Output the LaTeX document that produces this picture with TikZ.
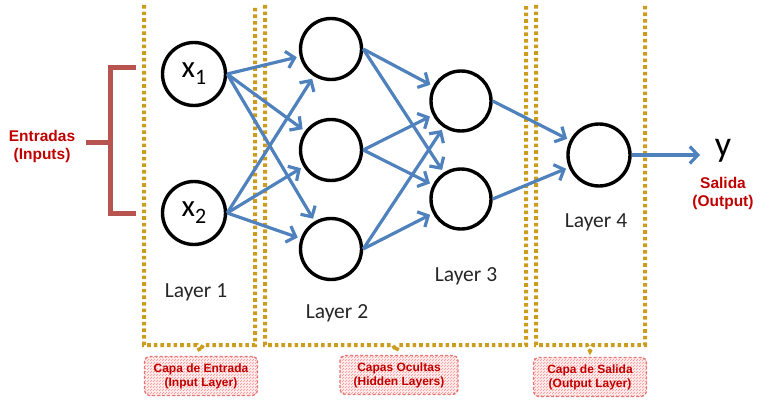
\documentclass[tikz,border=0pt]{standalone}
\usepackage{fontspec}
\setmainfont{Carlito}
\newfontfamily\arialb{Liberation Sans}[BoldFont={Liberation Sans Bold}]
\usetikzlibrary{arrows.meta,patterns}
\definecolor{gold}{RGB}{204,156,30}
\definecolor{nnblue}{RGB}{79,129,189}
\definecolor{brk}{RGB}{184,84,80}
\definecolor{lblred}{RGB}{192,0,0}
\definecolor{pinkb}{RGB}{226,120,120}
\begin{document}
\begin{tikzpicture}[x=1pt,y=-1pt,
  neuron/.style={circle,draw=black,line width=3.4pt,inner sep=0pt},
  conn/.style={draw=nnblue,line width=3.2pt,-{Straight Barb[length=8pt,width=17pt,line width=3.2pt]},shorten >=3pt},
  dotbox/.style={draw=gold,line width=4pt,dash pattern=on 3.6pt off 3pt},
  layertxt/.style={font=\fontsize{21.5}{21.5}\selectfont,text=black!85},
  redtxt/.style={font=\arialb\bfseries\fontsize{15.5}{18}\selectfont,text=lblred,align=center},
  tagbox/.style={rounded corners=5pt,draw=pinkb,line width=1.4pt,densely dashed,preaction={fill=red!6},pattern=north east lines,pattern color=red!45,minimum width=113pt,minimum height=39pt,align=center,font=\arialb\bfseries\fontsize{12}{14}\selectfont,text=lblred,inner sep=0pt}]
\useasboundingbox (0,0) rectangle (769,409);
% dotted layer boxes
\draw[dotbox] (144,5) -- (144,345) -- (197,345) -- (200,351) -- (203,345) -- (255,345) -- (255,5);
\draw[dotbox] (265,5) -- (265,345) -- (393,345) -- (396,351) -- (399,345) -- (526,345) -- (526,5);
\draw[dotbox] (536,5) -- (536,345) -- (587,345) -- (590,351) -- (593,345) -- (645,345) -- (645,5);
% neurons
\node[neuron,minimum size=63pt] (x1) at (194,74) {\fontsize{31}{31}\selectfont x\raisebox{-7pt}{\fontsize{22}{22}\selectfont 1}};
\node[neuron,minimum size=63pt] (x2) at (194,213) {\fontsize{31}{31}\selectfont x\raisebox{-7pt}{\fontsize{22}{22}\selectfont 2}};
\node[neuron,minimum size=61pt] (a1) at (331,49) {};
\node[neuron,minimum size=61pt] (a2) at (331,150) {};
\node[neuron,minimum size=61pt] (a3) at (331,249) {};
\node[neuron,minimum size=60pt] (b1) at (461,101) {};
\node[neuron,minimum size=60pt] (b2) at (461,199) {};
\node[neuron,minimum size=62pt] (c1) at (599,155) {};
\node[font=\fontsize{36}{36}\selectfont,inner sep=0pt] (y) at (723,151) {y};
\coordinate (yin) at (700,155);
% connectors
\foreach \s in {x1,x2}{\foreach \t in {a1,a2,a3}{\draw[conn] (\s.east) -- (\t);}}
\foreach \s in {a1,a2,a3}{\foreach \t in {b1,b2}{\draw[conn] (\s.east) -- (\t);}}
\foreach \s in {b1,b2}{\draw[conn] (\s.east) -- (c1);}
\draw[conn,shorten >=0pt] (c1.east) -- (yin);
% layer labels
\node[layertxt] (l1) at (196,292) {Layer 1};
\node[layertxt] (l2) at (337,313) {Layer 2};
\node[layertxt] (l3) at (466,276) {Layer 3};
\node[layertxt] (l4) at (596,222) {Layer 4};
% inputs bracket
\draw[brk,line width=5pt] (136,68) -- (110,68) -- (110,214) -- (136,214);
\draw[brk,line width=5pt] (86,143) -- (110,143);
\node[redtxt] (ent) at (42,146) {Entradas\\(Inputs)};
\node[redtxt] (sal) at (723,193) {Salida\\(Output)};
% tag boxes
\node[tagbox] (t1) at (201,376) {Capa de Entrada\\(Input Layer)};
\node[tagbox,minimum width=118pt] (t2) at (399,375) {Capas Ocultas\\(Hidden Layers)};
\node[tagbox] (t3) at (590,377) {Capa de Salida\\(Output Layer)};
\end{tikzpicture}
\end{document}
